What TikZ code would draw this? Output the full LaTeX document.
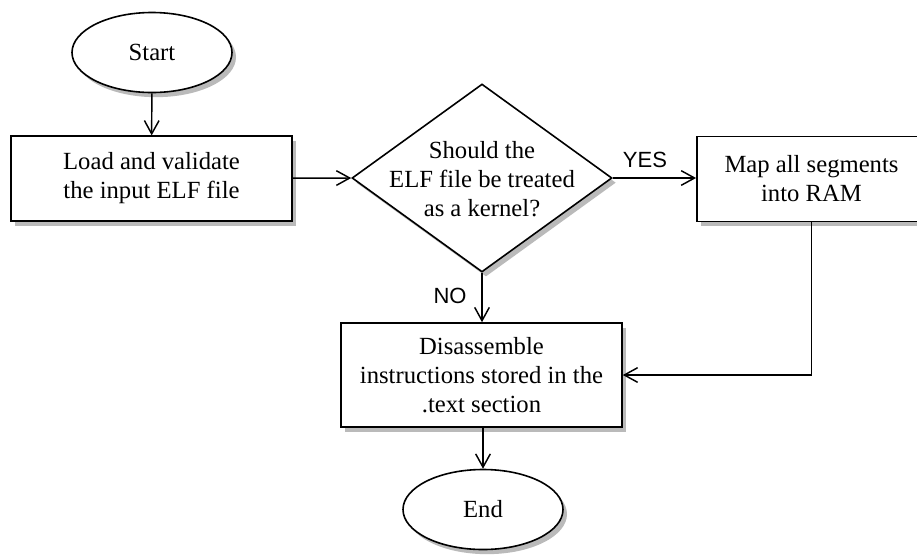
\documentclass[tikz,border=0pt]{standalone}
\usepackage{fontspec}
\setmainfont{Liberation Serif}
\newfontfamily\labelfont{Liberation Sans}
\usetikzlibrary{shapes.geometric,arrows.meta,shadows}
\tikzset{
  shad/.style={drop shadow={shadow xshift=3pt, shadow yshift=-3.5pt, fill=black!27, opacity=1}},
  procbox/.style={draw, line width=1.2pt, fill=white, shad, rectangle, align=center,
    inner sep=0pt, font=\fontsize{18.5}{21.8}\selectfont},
  termnode/.style={draw, line width=1.2pt, fill=white, shad, ellipse, inner sep=0pt,
    minimum width=120pt, minimum height=60pt, font=\fontsize{18.5}{21.8}\selectfont},
  decnode/.style={draw, line width=1.2pt, fill=white, shad, diamond, inner sep=0pt,
    minimum width=195pt, minimum height=141pt},
  dectext/.style={align=center, inner sep=0pt, font=\fontsize{18.5}{21.8}\selectfont},
  conn/.style={line width=1.1pt, -{Straight Barb[length=10pt,width=11pt,line width=1.1pt]}},
  yn/.style={font=\labelfont\fontsize{16.5}{19}\selectfont, inner sep=0pt}
}
\begin{document}
\begin{tikzpicture}[x=0.75pt,y=-0.75pt]
\useasboundingbox (0,0) rectangle (917,554);
\node[termnode] (start) at (152,52.5) {Start};
\node[procbox, minimum width=210.75pt, minimum height=63.5pt] (load) at (151.5,178.5)
  {Load and validate\\the input ELF file};
\node[decnode] (dec) at (482,178) {};
\node[dectext] (dectxt) at (482,179) {Should the\\ELF file be treated\\as a kernel?};
\node[procbox, minimum width=172pt, minimum height=64pt] (map) at (811.5,179)
  {Map all segments\\into RAM};
\node[procbox, minimum width=210.75pt, minimum height=78pt] (dis) at (481.5,375)
  {Disassemble\\instructions stored in the\\.text section};
\node[termnode] (end) at (483,509.5) {End};
\node[yn] (yes) at (645,160) {YES};
\node[yn] (no) at (450,296) {NO};
\draw[conn] (start) -- (load);
\draw[conn] (load) -- (dec.west);
\draw[conn] (dec.east) -- (map.west |- dec.east);
\draw[conn, line width=1.7pt] (dec.south) -- (dis.north -| dec.south);
\draw[conn] (map.south) |- (dis.east);
\draw[conn] (dis.south -| end.north) -- (end.north);
\end{tikzpicture}
\end{document}
